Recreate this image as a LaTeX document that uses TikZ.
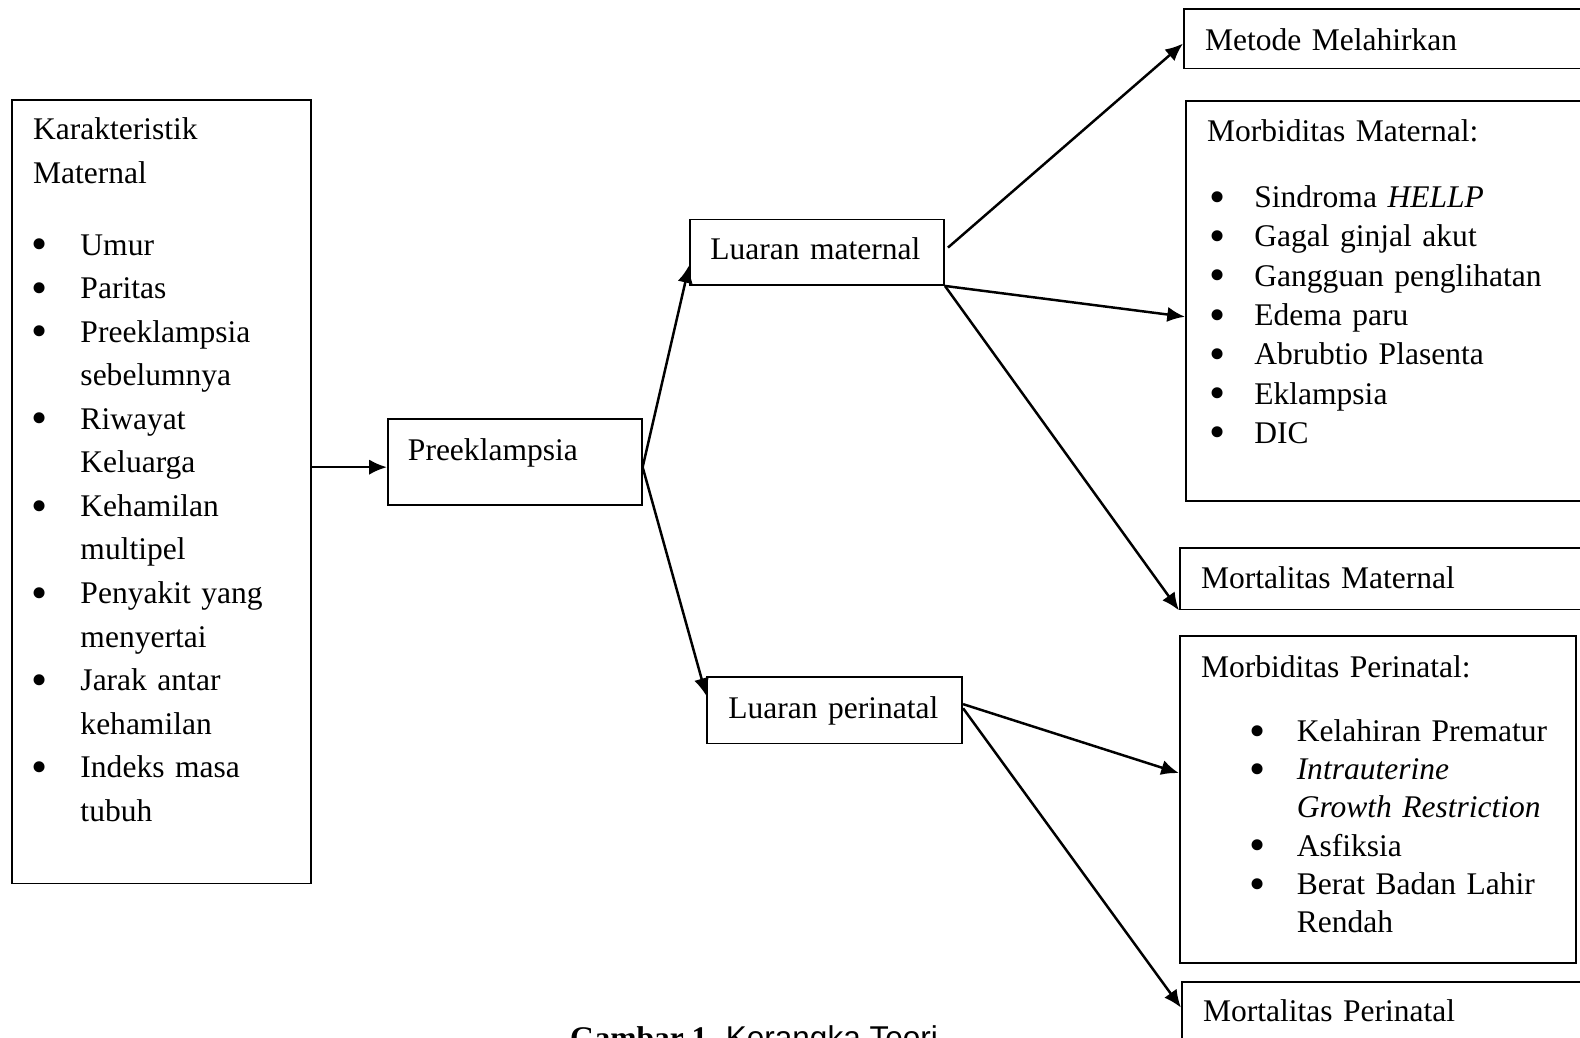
\documentclass[tikz,border=0pt]{standalone}
\usepackage{fontspec}
\setmainfont{Liberation Serif}
\newfontfamily\capsans{Liberation Sans}
\usetikzlibrary{positioning, arrows.meta, calc}

% inset of the bullet and of the item text, set before each list box
\newlength{\bltofs}
\newlength{\txtofs}
\newcommand{\bigblt}{{\fontsize{13}{0}\selectfont\raisebox{-1.3pt}{\textbullet}}}
\newcommand{\itm}[1]{\hspace*{\bltofs}\makebox[\dimexpr\txtofs-\bltofs\relax][l]{\bigblt}#1}
\newcommand{\cnt}[1]{\hspace*{\txtofs}#1}

\begin{document}
\begin{tikzpicture}[
        box/.style={draw, line width=0.5pt, anchor=north west, align=left, inner xsep=0.21cm, inner ysep=0pt,
                    font=\fontsize{8.9}{11}\selectfont},
        arr/.style={-{Latex[length=5pt, width=4.3pt]}, line width=0.7pt}]

        \useasboundingbox (0,0) rectangle (15.68,-10.30);

        % Kotak kiri
        \setlength{\bltofs}{-0.02cm}\setlength{\txtofs}{0.47cm}
        \node (karak) [box, text width=2.55cm, text height=0.40cm, text depth=7.38cm,
                       font=\fontsize{8.9}{12.3}\selectfont] at (0.11,-0.98)
              {Karakteristik\\Maternal\\[7.9pt]
               \itm{Umur}\\ \itm{Paritas}\\ \itm{Preeklampsia}\\ \cnt{sebelumnya}\\
               \itm{Riwayat}\\ \cnt{Keluarga}\\ \itm{Kehamilan}\\ \cnt{multipel}\\
               \itm{Penyakit yang}\\ \cnt{menyertai}\\ \itm{Jarak antar}\\ \cnt{kehamilan}\\
               \itm{Indeks masa}\\ \cnt{tubuh}};

        % Tengah
        \node (preek) [box, inner xsep=0.20cm, text width=2.12cm, text height=0.41cm, text depth=0.44cm] at (3.84,-4.15) {Preeklampsia};
        \node (luarmat) [box, inner xsep=0.20cm, text width=2.12cm, text height=0.40cm, text depth=0.25cm] at (6.84,-2.17) {Luaran maternal};
        \node (luarper) [box, text width=2.11cm, text height=0.41cm, text depth=0.25cm] at (7.01,-6.71) {Luaran perinatal};

        % Luaran kanan
        \node (metode) [box, text width=4.5cm, text height=0.41cm, text depth=0.18cm] at (11.74,-0.08) {Metode Melahirkan};
        \setlength{\bltofs}{0.025cm}\setlength{\txtofs}{0.47cm}
        \node (morbmat) [box, text width=4.5cm, text height=0.41cm, text depth=3.56cm,
                         font=\fontsize{8.9}{11.1}\selectfont] at (11.76,-0.99)
              {Morbiditas Maternal:\\[7.4pt]
               \itm{Sindroma \textit{HELLP}}\\ \itm{Gagal ginjal akut}\\ \itm{Gangguan penglihatan}\\
               \itm{Edema paru}\\ \itm{Abrubtio Plasenta}\\ \itm{Eklampsia}\\ \itm{DIC}};
        \node (mortmat) [box, text width=4.5cm, text height=0.40cm, text depth=0.21cm] at (11.70,-5.43) {Mortalitas Maternal};
        \setlength{\bltofs}{0.48cm}\setlength{\txtofs}{0.95cm}
        \node (morbper) [box, text width=3.51cm, text height=0.41cm, text depth=2.84cm,
                         font=\fontsize{8.9}{10.8}\selectfont] at (11.70,-6.30)
              {Morbiditas Perinatal:\\[7.4pt]
               \itm{Kelahiran Prematur}\\ \itm{\textit{Intrauterine}}\\ \cnt{\textit{Growth Restriction}}\\
               \itm{Asfiksia}\\ \itm{Berat Badan Lahir}\\ \cnt{Rendah}};
        \node (mortper) [box, text width=4.5cm, text height=0.39cm, text depth=0.6cm] at (11.72,-9.74) {Mortalitas Perinatal};

        % Judul gambar
        \node (caption) [anchor=base west, inner sep=0pt, font=\fontsize{8.9}{11}\selectfont] at (5.65,-10.41)
              {\textbf{Gambar 1.} {\capsans Kerangka Teori}};

        % Panah
        \coordinate (pout) at ($(preek.north east)!0.56!(preek.south east)$);
        \draw[arr] (karak.east |- pout) -- (preek.west |- pout);
        \draw[arr] (pout) -- ($(luarmat.north west)!0.69!(luarmat.south west)$);
        \draw[arr] (pout) -- ($(luarper.north west)!0.29!(luarper.south west)$);

        \draw[arr] ([xshift=0.03cm]$(luarmat.north east)!0.43!(luarmat.south east)$) -- ($(metode.north west)!0.58!(metode.south west)$);
        \draw[arr] (luarmat.south east) -- ($(morbmat.north west)!0.54!(morbmat.south west)$);
        \draw[arr] (luarmat.south east) -- (mortmat.south west);

        \draw[arr] ($(luarper.north east)!0.41!(luarper.south east)$) -- ($(morbper.north west)!0.42!(morbper.south west)$);
        \draw[arr] ($(luarper.north east)!0.47!(luarper.south east)$) -- ([yshift=-0.26cm]mortper.north west);

\end{tikzpicture}
\end{document}
